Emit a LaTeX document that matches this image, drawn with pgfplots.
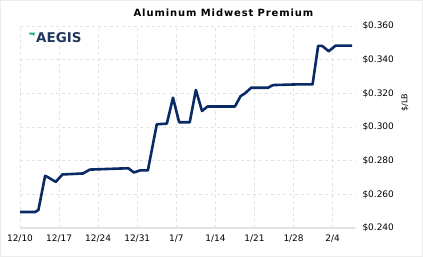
\documentclass[border=0pt]{standalone}
\usepackage{fontspec}
\setmainfont{DejaVu Sans}
\newfontfamily\titlefont[LetterSpace=9]{DejaVu Sans Bold}
\newfontfamily\logofont{DejaVu Sans Bold}
\usepackage{pgfplots}
\pgfplotsset{compat=1.18}
\definecolor{navy}{RGB}{10,42,102}
\definecolor{gridc}{RGB}{226,226,226}
\definecolor{logoblue}{RGB}{36,56,96}
\definecolor{logogreen}{RGB}{24,170,130}
\begin{document}
\begin{tikzpicture}
\useasboundingbox (0,0) rectangle (423bp,257bp);
\draw[gray!15] (0.5bp,0.5bp) rectangle (422.5bp,256.5bp);
\begin{axis}[
  at={(20bp,29bp)}, anchor=south west,
  scale only axis, width=335bp, height=202bp,
  xmin=0, xmax=60, ymin=0.24, ymax=0.36,
  axis x line=bottom, axis y line=right,
  x axis line style={draw=gridc, line width=2bp, -},
  y axis line style={draw=none},
  major tick length=0,
  grid=major, grid style={gridc, dashed, line width=0.8bp},
  xtick={0,7,14,21,28,35,42,49,56},
  xticklabels={12/10,12/17,12/24,12/31,1/7,1/14,1/21,1/28,2/4},
  ytick={0.24,0.26,0.28,0.30,0.32,0.34,0.36},
  yticklabels={\$0.240,\$0.260,\$0.280,\$0.300,\$0.320,\$0.340,\$0.360},
  tick label style={font=\fontsize{9}{10}\selectfont, text=black},
  xticklabel style={yshift=-3bp},
  yticklabel style={anchor=west, xshift=4bp},
  clip=false,
]
\addplot[navy, line width=2.6bp, line join=round] coordinates {
(0,0.2495) (2.7,0.2495) (3.3,0.2507) (4.5,0.2710) (5.1,0.2700) (6.4,0.2674)
(7.6,0.2718) (11.3,0.2724) (12.5,0.2747) (19.4,0.2755) (20.4,0.2730)
(21.5,0.2742) (22.9,0.2742) (24.5,0.3016) (26.3,0.3020) (27.4,0.3174)
(28.5,0.3028) (30.4,0.3028) (31.5,0.3220) (32.6,0.3095) (33.6,0.3122)
(38.5,0.3122) (39.5,0.3183) (40.3,0.3200) (41.4,0.3233) (44.4,0.3233)
(45.3,0.3249) (49.5,0.3253) (52.4,0.3253) (53.4,0.3482) (54.1,0.3482)
(55.3,0.3450) (56.5,0.3483) (59.5,0.3483)
};
\node[rotate=90, font=\fontsize{8}{9}\selectfont] at (axis description cs:1.149,0.62) {\$/LB};
\end{axis}
\node[font=\titlefont\fontsize{10}{12}\selectfont] at (223.5bp,244bp) {Aluminum Midwest Premium};
\node[anchor=west, inner sep=0, text=logoblue, font=\logofont\fontsize{13.5}{14}\selectfont] at (36bp,219bp) {AEGIS};
\fill[logogreen] (29bp,224.3bp) -- (35bp,224.3bp) -- (34bp,220.8bp) -- (33bp,222.3bp) -- (29.8bp,222.3bp) -- cycle;
\end{tikzpicture}
\end{document}
